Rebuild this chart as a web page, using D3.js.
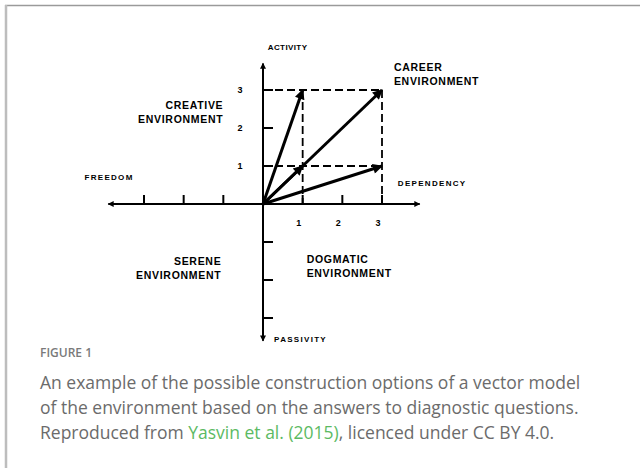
<!DOCTYPE html>
<html>
<head>
<meta charset="utf-8">
<script src="https://cdn.jsdelivr.net/npm/d3@7"></script>
<style>
  html, body { margin: 0; padding: 0; background: #fff; }
  svg { display: block; }
</style>
</head>
<body>
<div id="viz"></div>
<script>
'use strict';

// axis extents in model units [min, max]
const xExtent = [-3.9, 3.95];
const yExtent = [-3.6, 3.7];

// tick positions
const xTicks = [-3, -2, -1, 1, 2, 3];
const yTicks = [-3, -2, -1, 1, 2, 3];
const xTickLabels = [1, 2, 3];
const yTickLabels = [1, 2, 3];

// environment vectors (dependency, activity)
const vectors = [
  [1, 3],
  [3, 3],
  [3, 1],
  [1, 1]
];

// dashed guide lines [x1, y1, x2, y2]
const guides = [
  [0, 3, 3, 3],
  [0, 1, 3, 1],
  [1, 3, 1, 0],
  [3, 3, 3, 0]
];

const axisNames = ['ACTIVITY', 'PASSIVITY', 'FREEDOM', 'DEPENDENCY'];

const quadrantLabels = [
  {lines: ['CREATIVE', 'ENVIRONMENT'], x: -1, y: 2.5, anchor: 'end'},
  {lines: ['CAREER', 'ENVIRONMENT'], x: 3.3, y: 3.5, anchor: 'start'},
  {lines: ['SERENE', 'ENVIRONMENT'], x: -1.05, y: -1.6, anchor: 'end'},
  {lines: ['DOGMATIC', 'ENVIRONMENT'], x: 1.1, y: -1.55, anchor: 'start'}
];

const captionTitle = 'FIGURE 1';
const captionLines = [
  'An example of the possible construction options of a vector model',
  'of the environment based on the answers to diagnostic questions.'
];
const captionLast = ['Reproduced from ', 'Yasvin et al. (2015)', ', licenced under CC BY 4.0.'];

const W = 640, H = 468;

const svg = d3.select('#viz')
  .append('svg')
    .attr('width', W)
    .attr('height', H);

// frame
svg.append('line')
  .attr('x1', 5).attr('y1', 5.5).attr('x2', W).attr('y2', 5.5)
  .attr('stroke', '#9a9a9a').attr('stroke-width', 1.5);
svg.append('line')
  .attr('x1', 6).attr('y1', 5).attr('x2', 6).attr('y2', H)
  .attr('stroke', '#bdbdbd').attr('stroke-width', 2.5);

const x = d3.scaleLinear().domain([0, 3]).range([263, 382]);
const y = d3.scaleLinear().domain([0, 3]).range([204, 90]);

const defs = svg.append('defs');
defs.append('marker')
    .attr('id', 'vhead')
    .attr('viewBox', '0 0 10 10')
    .attr('refX', 9).attr('refY', 5)
    .attr('markerUnits', 'userSpaceOnUse')
    .attr('markerWidth', 12).attr('markerHeight', 10)
    .attr('orient', 'auto')
  .append('path')
    .attr('d', 'M0,0 L10,5 L0,10 Z')
    .attr('fill', '#000');
defs.append('marker')
    .attr('id', 'ahead')
    .attr('viewBox', '0 0 10 10')
    .attr('refX', 9).attr('refY', 5)
    .attr('markerUnits', 'userSpaceOnUse')
    .attr('markerWidth', 7).attr('markerHeight', 6)
    .attr('orient', 'auto')
  .append('path')
    .attr('d', 'M0,0 L10,5 L0,10 Z')
    .attr('fill', '#000');

const g = svg.append('g');

// dashed guides
g.selectAll('.guide')
  .data(guides)
  .join('line')
    .attr('class', 'guide')
    .attr('x1', d => x(d[0])).attr('y1', d => y(d[1]))
    .attr('x2', d => x(d[2])).attr('y2', d => y(d[3]))
    .attr('stroke', '#000')
    .attr('stroke-width', 1.8)
    .attr('stroke-dasharray', '8,4');

// axes (both directions get arrows)
const axisLines = [
  [0, 0, xExtent[1], 0],
  [0, 0, xExtent[0], 0],
  [0, 0, 0, yExtent[1]],
  [0, 0, 0, yExtent[0]]
];
g.selectAll('.axis')
  .data(axisLines)
  .join('line')
    .attr('class', 'axis')
    .attr('x1', d => x(d[0])).attr('y1', d => y(d[1]))
    .attr('x2', d => x(d[2])).attr('y2', d => y(d[3]))
    .attr('stroke', '#000')
    .attr('stroke-width', 2)
    .attr('marker-end', 'url(#ahead)');

// ticks
g.selectAll('.xtick')
  .data(xTicks)
  .join('line')
    .attr('class', 'xtick')
    .attr('x1', d => x(d)).attr('x2', d => x(d))
    .attr('y1', y(0)).attr('y2', y(0) - 9)
    .attr('stroke', '#000').attr('stroke-width', 2);

g.selectAll('.ytick')
  .data(yTicks)
  .join('line')
    .attr('class', 'ytick')
    .attr('y1', d => y(d)).attr('y2', d => y(d))
    .attr('x1', x(0)).attr('x2', x(0) + 10)
    .attr('stroke', '#000').attr('stroke-width', 2);

const labelFont = '"Liberation Sans", Arial, sans-serif';

g.selectAll('.xlab')
  .data(xTickLabels)
  .join('text')
    .attr('class', 'xlab')
    .attr('x', d => x(d) - 4)
    .attr('y', y(0) + 22)
    .attr('text-anchor', 'middle')
    .attr('font-family', labelFont)
    .attr('font-weight', 'bold')
    .attr('font-size', 9)
    .text(d => d);

g.selectAll('.ylab')
  .data(yTickLabels)
  .join('text')
    .attr('class', 'ylab')
    .attr('x', x(0) - 23)
    .attr('y', d => y(d) + 3)
    .attr('text-anchor', 'middle')
    .attr('font-family', labelFont)
    .attr('font-weight', 'bold')
    .attr('font-size', 9)
    .text(d => d);

// vectors
g.selectAll('.vec')
  .data(vectors)
  .join('line')
    .attr('class', 'vec')
    .attr('x1', x(0)).attr('y1', y(0))
    .attr('x2', d => x(d[0])).attr('y2', d => y(d[1]))
    .attr('stroke', '#000')
    .attr('stroke-width', 3)
    .attr('marker-end', 'url(#vhead)');

// axis names
const axisNamePos = [
  {x: 0.12, y: yExtent[1] + 0.42, anchor: 'start'},
  {x: 0.28, y: yExtent[0] + 0.05, anchor: 'start'},
  {x: -4.5, y: 0.7, anchor: 'start'},
  {x: 3.4, y: 0.55, anchor: 'start'}
];
g.selectAll('.aname')
  .data(axisNames)
  .join('text')
    .attr('class', 'aname')
    .attr('x', (d, i) => x(axisNamePos[i].x))
    .attr('y', (d, i) => y(axisNamePos[i].y) + 3)
    .attr('text-anchor', (d, i) => axisNamePos[i].anchor)
    .attr('font-family', labelFont)
    .attr('font-weight', 'bold')
    .attr('font-size', 8)
    .attr('letter-spacing', (d, i) => i === 0 ? 0.4 : 1.3)
    .text(d => d);

// quadrant labels
const ql = g.selectAll('.qlab')
  .data(quadrantLabels)
  .join('text')
    .attr('class', 'qlab')
    .attr('font-family', labelFont)
    .attr('font-weight', 'bold')
    .attr('font-size', 10.5)
    .attr('letter-spacing', 0.7)
    .attr('text-anchor', d => d.anchor)
    .attr('transform', d => `translate(${x(d.x)},${y(d.y)})`);

ql.selectAll('tspan')
  .data(d => d.lines)
  .join('tspan')
    .attr('x', 0)
    .attr('dy', (d, i) => i === 0 ? 0 : 14)
    .text(d => d);

// caption
const capFont = '"Open Sans", Lato, sans-serif';
svg.append('text')
  .attr('x', 40).attr('y', 357)
  .attr('font-family', capFont)
  .attr('font-weight', 600)
  .attr('font-size', 12)
  .attr('fill', '#7a7a7a')
  .text(captionTitle);

svg.selectAll('.cap')
  .data(captionLines)
  .join('text')
    .attr('class', 'cap')
    .attr('x', 40)
    .attr('y', (d, i) => 389 + i * 25)
    .attr('font-family', capFont)
    .attr('font-size', 17.5)
    .attr('fill', '#6b6b6b')
    .text(d => d);

const last = svg.append('text')
  .attr('x', 40).attr('y', 439)
  .attr('font-family', capFont)
  .attr('font-size', 17.5)
  .attr('fill', '#6b6b6b');
last.selectAll('tspan')
  .data(captionLast)
  .join('tspan')
    .attr('fill', (d, i) => i === 1 ? '#5cba63' : '#6b6b6b')
    .text(d => d);
</script>
</body>
</html>
